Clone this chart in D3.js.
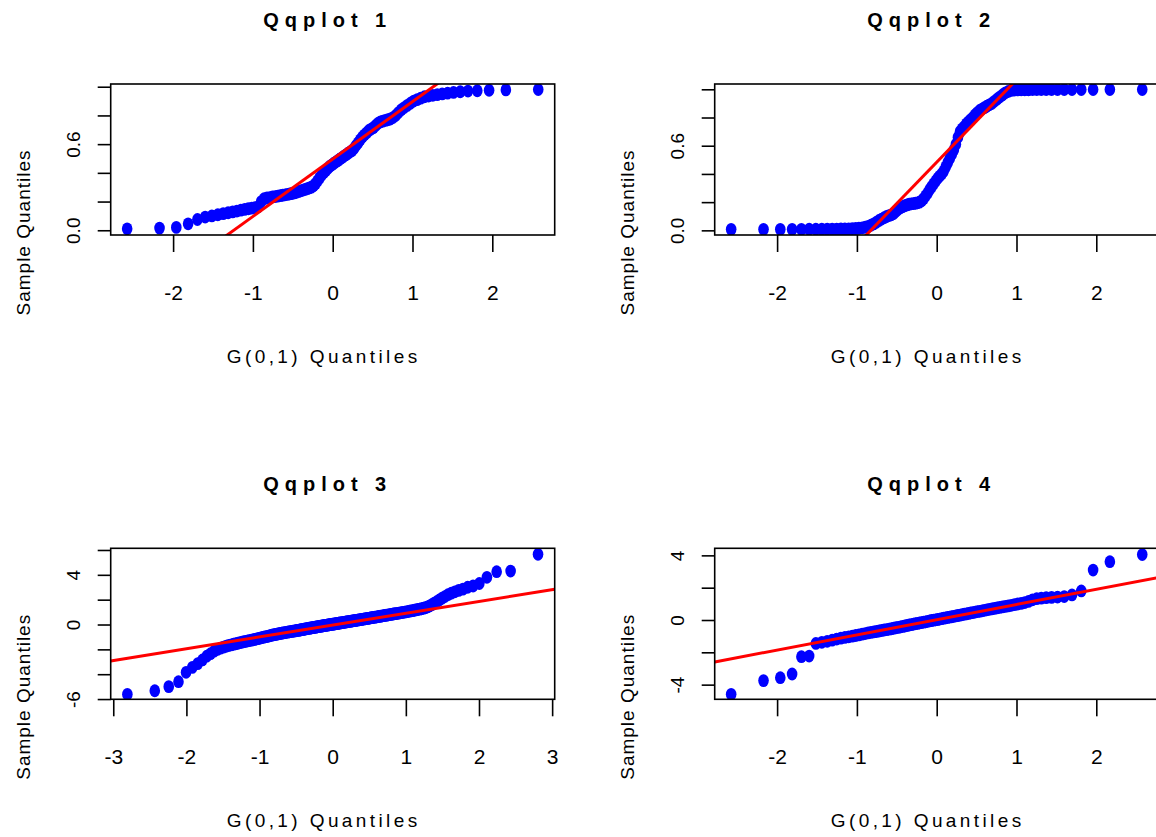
<!DOCTYPE html>
<html>
<head>
<meta charset="utf-8">
<script src="https://cdn.jsdelivr.net/npm/d3@7"></script>
<style>
	body { margin: 0; background: #fff; }
	text { font-family: "Liberation Sans", Arial, sans-serif; fill: #000; }
</style>
</head>
<body>
<script>

// sorted sample values, one array per panel
var sample1 =
	[0.010,0.015,0.020,0.045,0.075,0.092,0.100,0.108,0.116,0.122,
	 0.128,0.134,0.140,0.145,0.150,0.154,0.158,0.163,0.200,0.220,
	 0.225,0.228,0.232,0.235,0.238,0.241,0.244,0.247,0.250,0.253,
	 0.256,0.260,0.265,0.270,0.275,0.280,0.285,0.290,0.295,0.300,
	 0.310,0.325,0.345,0.365,0.385,0.400,0.415,0.430,0.445,0.455,
	 0.465,0.475,0.485,0.495,0.505,0.515,0.525,0.535,0.545,0.555,
	 0.570,0.590,0.610,0.630,0.650,0.665,0.680,0.695,0.705,0.715,
	 0.730,0.745,0.755,0.760,0.765,0.770,0.775,0.785,0.800,0.820,
	 0.840,0.855,0.870,0.885,0.900,0.910,0.920,0.930,0.935,0.940,
	 0.945,0.950,0.955,0.960,0.965,0.970,0.972,0.975,0.978,0.980];

var sample2 =
	[0.007,0.007,0.007,0.007,0.007,0.008,0.008,0.008,0.009,0.009,
	 0.009,0.010,0.010,0.011,0.012,0.013,0.015,0.018,0.022,0.028,
	 0.036,0.046,0.058,0.070,0.080,0.090,0.098,0.105,0.110,0.120,
	 0.135,0.150,0.160,0.168,0.175,0.180,0.185,0.188,0.190,0.192,
	 0.195,0.200,0.210,0.225,0.245,0.265,0.290,0.310,0.330,0.350,
	 0.370,0.385,0.400,0.420,0.450,0.480,0.510,0.540,0.570,0.610,
	 0.660,0.700,0.720,0.735,0.755,0.770,0.785,0.800,0.820,0.835,
	 0.850,0.860,0.870,0.880,0.890,0.900,0.915,0.930,0.945,0.960,
	 0.975,0.985,0.992,0.995,0.996,0.997,0.997,0.997,0.998,0.998,
	 0.998,0.998,0.998,0.998,0.998,0.998,0.998,0.998,0.998,0.998];

var sample3 =
	[-5.62,-5.33,-5.00,-4.60,-3.85,-3.45,-3.15,-2.85,-2.55,-2.35,
	 -2.15,-2.00,-1.90,-1.82,-1.75,-1.69,-1.64,-1.59,-1.55,-1.51,
	 -1.46,-1.42,-1.38,-1.35,-1.32,-1.29,-1.26,-1.23,-1.20,-1.17,
	 -1.14,-1.11,-1.08,-1.05,-1.02,-0.99,-0.97,-0.95,-0.92,-0.89,
	 -0.86,-0.84,-0.82,-0.80,-0.78,-0.76,-0.74,-0.72,-0.70,-0.68,
	 -0.67,-0.65,-0.63,-0.62,-0.60,-0.59,-0.57,-0.56,-0.54,-0.53,
	 -0.51,-0.50,-0.48,-0.47,-0.45,-0.44,-0.42,-0.41,-0.39,-0.38,
	 -0.36,-0.35,-0.33,-0.32,-0.30,-0.29,-0.28,-0.26,-0.25,-0.24,
	 -0.22,-0.21,-0.20,-0.18,-0.17,-0.16,-0.14,-0.13,-0.12,-0.10,
	 -0.09,-0.08,-0.07,-0.05,-0.04,-0.03,-0.02,0.00,0.01,0.02,
	 0.03,0.04,0.05,0.07,0.08,0.09,0.10,0.12,0.13,0.14,
	 0.16,0.17,0.18,0.19,0.21,0.22,0.23,0.24,0.26,0.27,
	 0.28,0.29,0.31,0.32,0.33,0.34,0.36,0.37,0.38,0.40,
	 0.41,0.42,0.44,0.45,0.46,0.48,0.49,0.50,0.52,0.53,
	 0.55,0.56,0.58,0.59,0.60,0.62,0.63,0.65,0.67,0.68,
	 0.70,0.71,0.73,0.75,0.76,0.78,0.80,0.81,0.83,0.85,
	 0.87,0.88,0.90,0.92,0.94,0.96,0.98,1.00,1.02,1.04,
	 1.07,1.09,1.12,1.15,1.18,1.21,1.24,1.27,1.31,1.35,
	 1.42,1.50,1.60,1.72,1.84,1.98,2.12,2.25,2.40,2.52,
	 2.63,2.75,2.85,3.00,3.10,3.30,3.80,4.25,4.30,5.65];

var sample4 =
	[-4.60,-3.75,-3.57,-3.34,-2.27,-2.23,-1.45,-1.38,-1.32,-1.25,
	 -1.18,-1.12,-1.08,-1.04,-1.00,-0.96,-0.92,-0.88,-0.84,-0.80,
	 -0.77,-0.74,-0.71,-0.68,-0.65,-0.62,-0.60,-0.57,-0.54,-0.51,
	 -0.48,-0.46,-0.43,-0.40,-0.37,-0.34,-0.31,-0.29,-0.26,-0.23,
	 -0.21,-0.18,-0.16,-0.13,-0.11,-0.08,-0.06,-0.03,-0.01,0.01,
	 0.03,0.06,0.08,0.11,0.13,0.16,0.18,0.20,0.23,0.25,
	 0.28,0.30,0.33,0.36,0.38,0.41,0.44,0.46,0.49,0.52,
	 0.54,0.57,0.60,0.63,0.66,0.69,0.72,0.75,0.78,0.81,
	 0.84,0.87,0.91,0.95,0.99,1.03,1.08,1.15,1.25,1.32,
	 1.35,1.38,1.40,1.42,1.45,1.55,1.80,3.09,3.61,4.05];

var samples = [sample1, sample2, sample3, sample4],
	titles = ["Qqplot 1", "Qqplot 2", "Qqplot 3", "Qqplot 4"],
	// reference line: [intercept, slope]
	lineCoef = [[0.496, 0.40], [0.483, 0.585], [-0.05, 0.95], [0.02, 0.94]],
	xTicks = [[-2, -1, 0, 1, 2], [-2, -1, 0, 1, 2], [-3, -2, -1, 0, 1, 2, 3], [-2, -1, 0, 1, 2]],
	yTicks = [[0, 0.2, 0.4, 0.6, 0.8, 1], [0, 0.2, 0.4, 0.6, 0.8, 1], [-6, -4, -2, 0, 2, 4, 6], [-4, -2, 0, 2, 4]],
	yTickLabels = [[0, 0.6], [0, 0.6], [-6, 0, 4], [-4, 0, 4]],
	xDomains = [[-2.782, 2.782], [-2.782, 2.782], [-3.035, 3.035], [-2.782, 2.782]],
	yDomains = [[-0.033, 1.019], [-0.033, 1.0376], [-6.02, 6.135], [-4.907, 4.437]],
	xLabel = "G(0,1) Quantiles",
	yLabel = "Sample Quantiles";

var width = 1156,
	height = 837,
	lefts = [110.7, 714.7],
	tops = [84, 548.3],
	boxW = 444,
	boxH = 151;

// inverse normal cdf (Acklam)
function qnorm(p) {
	var a = [-39.6968302866538, 220.946098424521, -275.928510446969, 138.357751867269, -30.6647980661472, 2.50662827745924],
		b = [-54.4760987982241, 161.585836858041, -155.698979859887, 66.8013118877197, -13.2806815528857],
		c = [-0.00778489400243029, -0.322396458041136, -2.40075827716184, -2.54973253934373, 4.37466414146497, 2.93816398269878],
		d = [0.00778469570904146, 0.32246712907004, 2.445134137143, 3.75440866190742],
		q, r;
	if (p < 0.02425) {
		q = Math.sqrt(-2 * Math.log(p));
		return (((((c[0]*q+c[1])*q+c[2])*q+c[3])*q+c[4])*q+c[5]) / ((((d[0]*q+d[1])*q+d[2])*q+d[3])*q+1);
	}
	if (p > 1 - 0.02425) return -qnorm(1 - p);
	q = p - 0.5;
	r = q * q;
	return (((((a[0]*r+a[1])*r+a[2])*r+a[3])*r+a[4])*r+a[5])*q / (((((b[0]*r+b[1])*r+b[2])*r+b[3])*r+b[4])*r+1);
}

function fmt(v, k) {
	if (k < 2) return v.toFixed(1);
	return String(v);
}

var svg = d3.select("body")
	.append("svg")
	.attr("width", width)
	.attr("height", height);

for (var k = 0; k < 4; k++) {
	var x0 = lefts[k % 2],
		y0 = tops[Math.floor(k / 2)],
		data = samples[k],
		n = data.length;

	var xScale = d3.scaleLinear().domain(xDomains[k]).range([x0, x0 + boxW]);
	var yScale = d3.scaleLinear().domain(yDomains[k]).range([y0 + boxH, y0]);

	svg.append("clipPath")
		.attr("id", "clip" + k)
		.append("rect")
		.attr("x", x0).attr("y", y0)
		.attr("width", boxW).attr("height", boxH);

	var g = svg.append("g");

	// points
	g.append("g")
		.attr("clip-path", "url(#clip" + k + ")")
		.selectAll("ellipse")
		.data(data)
		.enter()
		.append("ellipse")
		.attr("cx", function(d, i) { return xScale(qnorm((i + 0.5) / n)); })
		.attr("cy", function(d) { return yScale(d); })
		.attr("rx", 5.3)
		.attr("ry", 6.4)
		.style("fill", "#0000ff");

	// reference line
	var dom = xDomains[k], cf = lineCoef[k];
	g.append("line")
		.attr("clip-path", "url(#clip" + k + ")")
		.attr("x1", xScale(dom[0]))
		.attr("y1", yScale(cf[0] + cf[1] * dom[0]))
		.attr("x2", xScale(dom[1]))
		.attr("y2", yScale(cf[0] + cf[1] * dom[1]))
		.style("stroke", "#ff0000")
		.style("stroke-width", 3);

	// box
	g.append("rect")
		.attr("x", x0).attr("y", y0)
		.attr("width", boxW).attr("height", boxH)
		.style("fill", "none")
		.style("stroke", "#000")
		.style("stroke-width", 1.6);

	// x axis
	var xAxis = d3.axisBottom(xScale)
		.tickValues(xTicks[k])
		.tickSize(17)
		.tickPadding(33)
		.tickFormat(function(d) { return String(d); });
	var gx = g.append("g")
		.attr("transform", "translate(0," + (y0 + boxH) + ")")
		.call(xAxis);
	gx.select(".domain").remove();
	gx.selectAll("line").style("stroke-width", 1.6);
	gx.selectAll("text")
		.attr("font-family", null)
		.style("font-size", "21px");

	// y axis, only some labels shown
	var labs = yTickLabels[k];
	var yAxis = d3.axisLeft(yScale)
		.tickValues(yTicks[k])
		.tickSize(13)
		.tickFormat(function(d) { return labs.indexOf(d) >= 0 ? fmt(d, k) : ""; });
	var gy = g.append("g")
		.attr("transform", "translate(" + x0 + ",0)")
		.call(yAxis);
	gy.select(".domain").remove();
	gy.selectAll("line").style("stroke-width", 1.6);
	gy.selectAll("text")
		.attr("font-family", null)
		.attr("x", null)
		.attr("dy", null)
		.attr("text-anchor", "middle")
		.attr("transform", "translate(-31,0) rotate(-90)")
		.style("font-size", "19px");

	// titles and axis labels
	svg.append("text")
		.attr("x", x0 + boxW / 2 - 5)
		.attr("y", y0 - 57)
		.attr("text-anchor", "middle")
		.style("font-size", "20px")
		.style("font-weight", "bold")
		.style("letter-spacing", "6px")
		.text(titles[k]);

	svg.append("text")
		.attr("x", x0 + boxW / 2 - 9)
		.attr("y", y0 + boxH + 128)
		.attr("text-anchor", "middle")
		.style("font-size", "19px")
		.style("letter-spacing", "3.4px")
		.text(xLabel);

	svg.append("text")
		.attr("transform", "translate(" + (x0 - 81) + "," + (y0 + boxH / 2 + 73) + ") rotate(-90)")
		.attr("text-anchor", "middle")
		.style("font-size", "19px")
		.style("letter-spacing", "1px")
		.text(yLabel);
}

</script>
</body>
</html>
